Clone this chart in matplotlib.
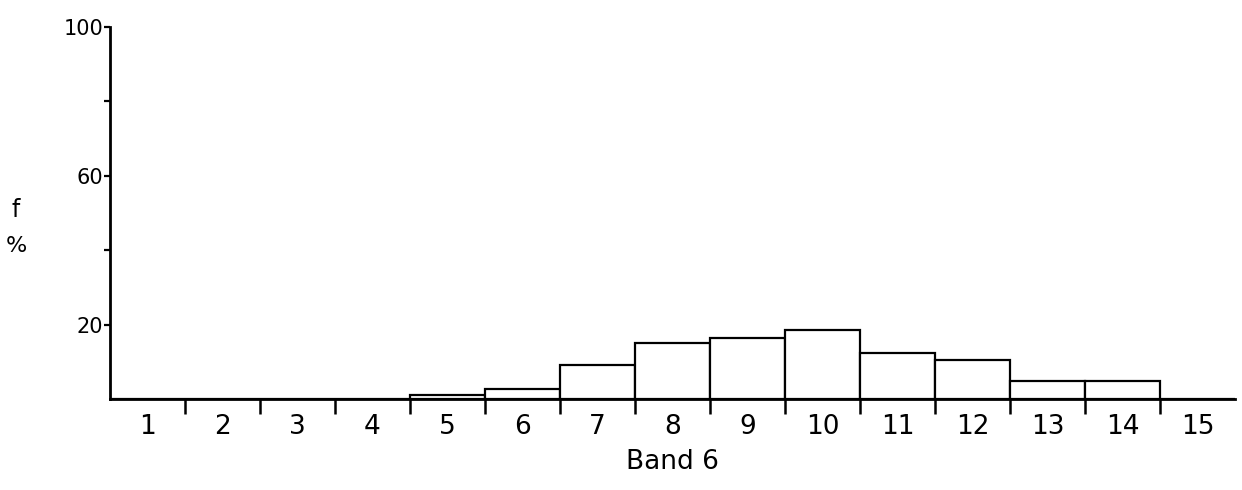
import matplotlib.pyplot as plt
from matplotlib.ticker import FixedLocator, NullFormatter

# Frequency per class, Band 6
bands = list(range(1, 16))
freq = [0, 0, 0, 0, 1.0, 2.6, 9.2, 15.0, 16.5, 18.6, 12.4, 10.5, 4.9, 4.9, 0]

y_labeled = [20, 60, 100]
y_minor = [40, 80]


def plot_hist():
    fig = plt.figure(figsize=(12.42, 4.9), dpi=100)
    ax = fig.add_axes([0.0886, 0.1857, 0.9058, 0.759])

    ax.bar(bands, freq, width=1.0, color="white", edgecolor="black",
           linewidth=1.6, zorder=2)

    ax.set_xlim(0.5, 15.5)
    ax.set_ylim(0, 100)

    for side in ["top", "right"]:
        ax.spines[side].set_visible(False)
    for side in ["left", "bottom"]:
        ax.spines[side].set_linewidth(2.0)

    # x: ticks on bin borders, labels in bin centres
    ax.xaxis.set_major_locator(FixedLocator([b + 0.5 for b in bands[:-1]]))
    ax.xaxis.set_major_formatter(NullFormatter())
    ax.xaxis.set_minor_locator(FixedLocator(bands))
    ax.set_xticklabels([str(b) for b in bands], minor=True)
    ax.tick_params(axis="x", which="major", direction="out", length=11,
                   width=1.8)
    ax.tick_params(axis="x", which="minor", length=0, labelsize=19, pad=11)

    # y
    ax.set_yticks(y_labeled)
    ax.set_yticks(y_minor, minor=True)
    ax.tick_params(axis="y", which="both", direction="out", length=4,
                   width=1.6, labelsize=15, pad=1)

    ax.set_xlabel("Band 6", fontsize=19, labelpad=6)
    fig.text(0.013, 0.571, "f", fontsize=17, ha="center", va="center")
    fig.text(0.013, 0.498, "%", fontsize=16, ha="center", va="center")

    fig.savefig("out.png", dpi=100)


if __name__ == "__main__":
    plot_hist()
